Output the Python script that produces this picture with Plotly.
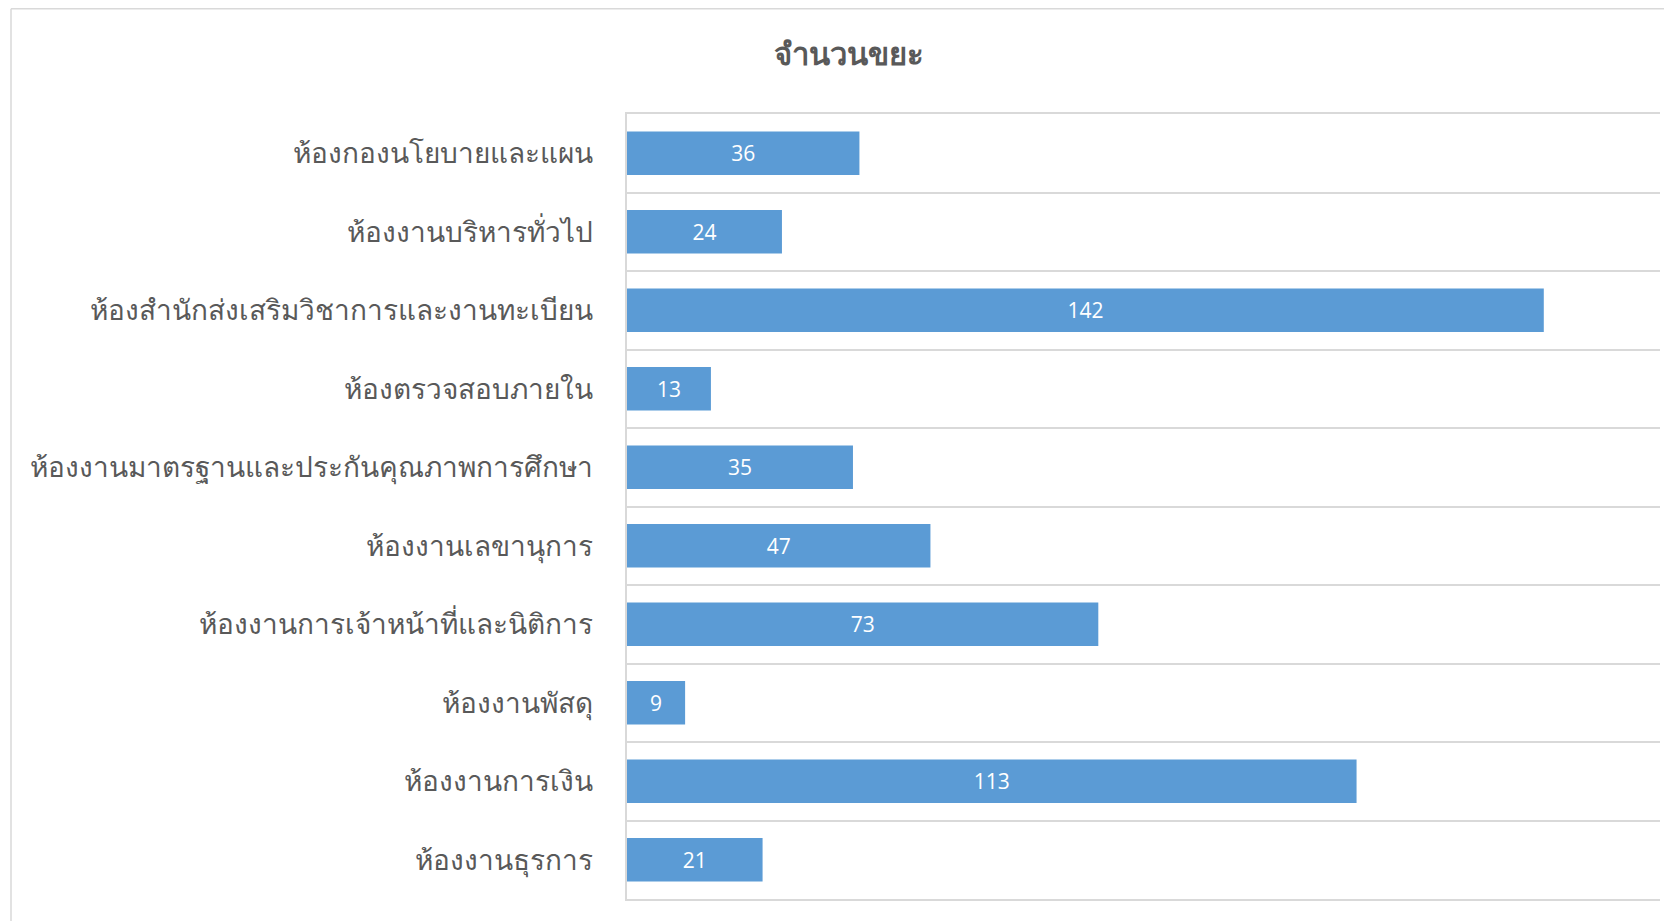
import plotly.graph_objects as go

categories = [
    "ห้องกองนโยบายและแผน",
    "ห้องงานบริหารทั่วไป",
    "ห้องสำนักส่งเสริมวิชาการและงานทะเบียน",
    "ห้องตรวจสอบภายใน",
    "ห้องงานมาตรฐานและประกันคุณภาพการศึกษา",
    "ห้องงานเลขานุการ",
    "ห้องงานการเจ้าหน้าที่และนิติการ",
    "ห้องงานพัสดุ",
    "ห้องงานการเงิน",
    "ห้องงานธุรการ",
]
values = [36, 24, 142, 13, 35, 47, 73, 9, 113, 21]
title_text = "จำนวนขยะ"

W, H = 1672, 921
L, R, T, B = 619, 20, 106, 30
PW, PH = W - L - R, H - T - B

fig = go.Figure(go.Bar(
    x=values,
    y=categories,
    orientation="h",
    marker=dict(color="#5b9bd5", line=dict(width=0)),
    width=0.555,
    text=[str(v) for v in values],
    textposition="inside",
    insidetextanchor="middle",
    textangle=0,
    textfont=dict(color="white", size=21, family="Open Sans, Lato, sans-serif"),
    hoverinfo="skip",
))

fig.update_layout(
    width=W, height=H,
    margin=dict(l=L, r=R, t=T, b=B, pad=0),
    paper_bgcolor="white",
    plot_bgcolor="white",
    showlegend=False,
    title=dict(
        text="<b>" + title_text + "</b>",
        x=841 / W, xanchor="center",
        y=1 - 46 / H, yanchor="middle",
        font=dict(size=31, color="#595959"),
    ),
    xaxis=dict(
        range=[0, 160],
        showticklabels=False,
        ticks="",
        showgrid=False,
        zeroline=False,
        showline=True,
        mirror=True,
        linecolor="#d9d9d9",
        linewidth=1.5,
        fixedrange=True,
    ),
    yaxis=dict(
        type="category",
        autorange="reversed",
        tickson="boundaries",
        showgrid=True,
        gridcolor="#d9d9d9",
        gridwidth=1.5,
        showline=True,
        linecolor="#d9d9d9",
        linewidth=1.5,
        ticks="",
        ticklabelstandoff=27,
        tickfont=dict(size=28, color="#595959", weight=300),
        fixedrange=True,
    ),
    shapes=[
        dict(type="line", xref="paper", yref="paper",
             x0=-(L - 3) / PW, x1=(W - L) / PW + 0.01,
             y0=1 + (T - 0.75) / PH, y1=1 + (T - 0.75) / PH,
             line=dict(color="#d9d9d9", width=1.5)),
        dict(type="line", xref="paper", yref="paper",
             x0=-(L - 3) / PW, x1=-(L - 3) / PW,
             y0=1 + (T - 0.75) / PH, y1=-B / PH - 0.01,
             line=dict(color="#d9d9d9", width=1.5)),
    ],
)

fig.write_html("out.html")
